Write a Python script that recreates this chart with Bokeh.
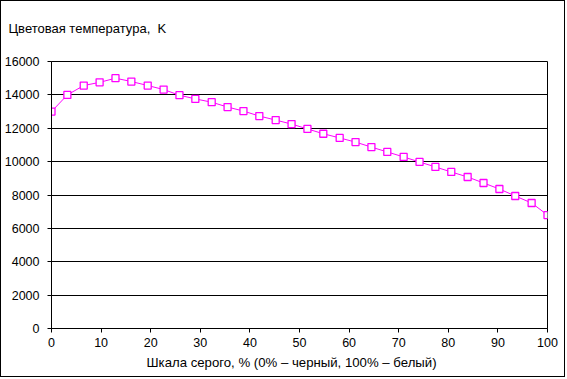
from bokeh.plotting import figure
from bokeh.models import Range1d, FixedTicker, Title
from bokeh.embed import file_html
from bokeh.resources import INLINE

# Gray level (%) and color temperature (K)
gray_pct = [0, 3.2, 6.5, 9.7, 12.9, 16.1, 19.4, 22.6, 25.8, 29.0, 32.3, 35.5,
            38.7, 41.9, 45.2, 48.4, 51.6, 54.8, 58.1, 61.3, 64.5, 67.7, 71.0,
            74.2, 77.4, 80.6, 83.9, 87.1, 90.3, 93.5, 96.8, 100]
temp_k = [13000, 14000, 14560, 14750, 15000, 14800, 14560, 14320, 13980, 13760,
          13560, 13270, 13030, 12730, 12490, 12250, 11960, 11670, 11420, 11170,
          10870, 10580, 10280, 9980, 9680, 9380, 9080, 8720, 8360, 7940, 7520, 6800]

x_ticks = [0, 10, 20, 30, 40, 50, 60, 70, 80, 90, 100]
y_ticks = [0, 2000, 4000, 6000, 8000, 10000, 12000, 14000, 16000]

y_title = "Цветовая температура,\u00a0 K"
x_title = "Шкала серого, % (0% – черный, 100% – белый)"

FONT = "Liberation Sans"

W, H = 565, 377
p = figure(width=W, height=H, output_backend="svg", toolbar_location=None,
           x_range=Range1d(0, 100), y_range=Range1d(0, 16000),
           min_border_left=49, min_border_right=19, min_border_top=60,
           min_border_bottom=50)
p.styles = {"border": "1px solid black"}

p.background_fill_color = "white"
p.border_fill_color = "white"
p.outline_line_color = "black"
p.outline_line_width = 1

p.xgrid.visible = False
p.ygrid.grid_line_color = "black"
p.ygrid.grid_line_width = 1
p.ygrid.ticker = FixedTicker(ticks=y_ticks)

for ax in (p.xaxis[0], p.yaxis[0]):
    ax.axis_line_color = "black"
    ax.major_tick_line_color = "black"
    ax.major_tick_in = 0
    ax.major_tick_out = 4
    ax.minor_tick_line_color = None
    ax.major_label_text_font = FONT
    ax.major_label_text_font_size = "12.5px"
    ax.major_label_text_color = "black"

p.xaxis[0].ticker = FixedTicker(ticks=x_ticks)
p.yaxis[0].ticker = FixedTicker(ticks=y_ticks)
p.xaxis[0].major_label_standoff = 5
p.yaxis[0].major_label_standoff = 8

p.line(gray_pct, temp_k, line_color="#FF00FF", line_width=1)
p.scatter(gray_pct, temp_k, marker="square", size=7, fill_color="white",
          line_color="#FF00FF", line_width=1.3)

# spacer panel between frame and the axis title (keeps title high)
p.add_layout(Title(text=" ", standoff=23, text_font=FONT, text_font_size="1px",
                   text_color="white"), "above")
p.add_layout(Title(text=y_title, align="left", offset=-43, standoff=0,
                   text_font=FONT, text_font_size="13px",
                   text_font_style="normal", text_color="black"), "above")
p.add_layout(Title(text=x_title, align="left", offset=95, standoff=7,
                   text_font=FONT, text_font_size="13.2px",
                   text_font_style="normal", text_color="black"), "below")

open("out.html", "w").write(file_html(p, INLINE))
